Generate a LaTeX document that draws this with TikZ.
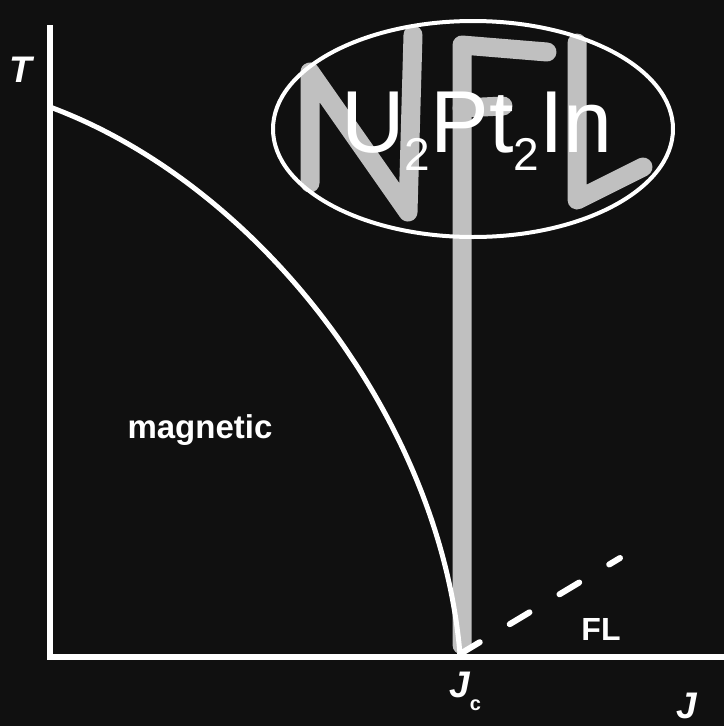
\documentclass[tikz,border=0pt]{standalone}
\usepackage{fontspec}
\setmainfont{Liberation Sans}
\usepackage{xcolor}
\usetikzlibrary{positioning}
\definecolor{bgblack}{RGB}{16,16,16}
\definecolor{nflgrey}{RGB}{192,192,192}
\newcommand{\subtwo}{\raisebox{-18pt}{\fontsize{46}{46}\selectfont 2}}
\tikzset{
  axisline/.style={draw=white,line width=6pt},
  phaseline/.style={draw=white,line width=5pt},
  flline/.style={draw=white,line width=6pt,line cap=round,
                 dash pattern=on 23pt off 35pt},
  nflstroke/.style={draw=nflgrey,line width=19pt,line cap=round,line join=round},
  ringline/.style={draw=white,line width=4pt},
  axislabel/.style={text=white,inner sep=0pt,
                    font=\bfseries\itshape\fontsize{37}{37}\selectfont},
  phaselabel/.style={text=white,inner sep=0pt,
                     font=\bfseries\fontsize{33}{33}\selectfont},
  formula/.style={text=white,inner sep=0pt,font=\fontsize{88}{88}\selectfont},
}

\begin{document}
\begin{tikzpicture}[x=1pt,y=-1pt]
  \fill[bgblack] (0,0) rectangle (724,726);
  \useasboundingbox (0,0) rectangle (724,726);
  % --- key points
  \coordinate (origin) at (50,657);
  \coordinate (Ttop) at (50,25);
  \coordinate (Jend) at (726,657);
  \coordinate (Tneel) at (50,107);
  \coordinate (Jcrit) at (460,654);
  \coordinate (FLend) at (620,558);
  % --- NFL letters
  \draw[nflstroke] (310,183) -- (310,72) -- (408,212) -- (413,35);
  \draw[nflstroke] (462,645) -- (462,45) -- (547,52);
  \draw[nflstroke] (462,108) -- (503,106);
  \draw[nflstroke] (577,43) -- (577,200) -- (643,167);
  % --- ring and compound
  \draw[ringline] (473,129) ellipse [x radius=200,y radius=108];
  \node[formula,anchor=base west] (compound) at (341,152)
    {U\subtwo Pt\subtwo In};
  % --- axes and phase lines
  \draw[axisline] (Ttop) -- (origin) -- (Jend);
  \draw[phaseline] (Tneel) .. controls (260,185) and (440,420) .. (Jcrit);
  \draw[flline] (Jcrit) -- (FLend);
  % --- labels
  \node[axislabel,anchor=base] (tlabel) at (21,82) {T};
  \node[axislabel,anchor=base,text depth=0pt] (jlabel) at (687,718) {J};
  \node[axislabel,anchor=base west] (jclabel) at (449,697)
    {J\raisebox{-13pt}{\fontsize{20}{20}\selectfont\upshape c}};
  \node[phaselabel,anchor=base] (magnetic) at (200,438) {magnetic};
  \node[phaselabel,font=\bfseries\fontsize{32}{32}\selectfont,anchor=base]
    (fl) at (601,640) {FL};
\end{tikzpicture}
\end{document}
